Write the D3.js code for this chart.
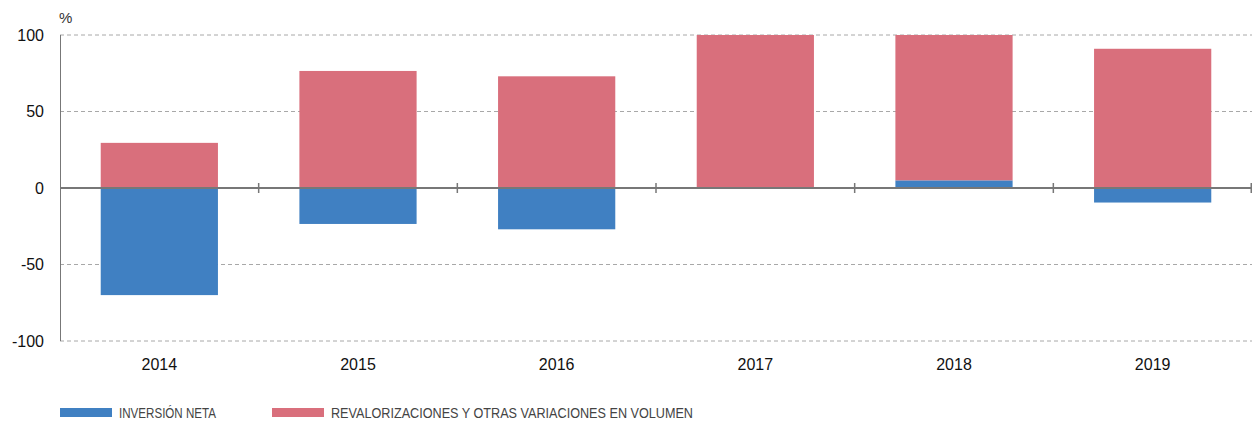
<!DOCTYPE html>
<html>
<head>
<meta charset="utf-8">
<script src="https://cdn.jsdelivr.net/npm/d3@7"></script>
<style>
  html, body { margin: 0; padding: 0; background: #fff; }
  svg { display: block; }
</style>
</head>
<body>
<svg id="chart" width="1252" height="424"></svg>
<script>
// Years on the horizontal axis
const years = ["2014", "2015", "2016", "2017", "2018", "2019"];
// Net investment (percentage points)
const inversionNeta = [-70, -23.5, -27, 0, 5, -9.5];
// Revaluations and other volume changes (percentage points)
const revalorizaciones = [29.5, 76.5, 73, 100, 95, 91];
// Vertical axis ticks
const yTicks = [-100, -50, 0, 50, 100];
const seriesNames = ["INVERSIÓN NETA", "REVALORIZACIONES Y OTRAS VARIACIONES EN VOLUMEN"];
const colors = ["#4080c2", "#d96f7c"];

const svg = d3.select("#chart");
const margin = { left: 60, right: 0, top: 35, bottom: 83 };
const W = 1252, H = 424;

const x = d3.scaleBand().domain(years)
  .range([margin.left, W - margin.right])
  .paddingInner(0.41).paddingOuter(0.205);
const y = d3.scaleLinear().domain([-100, 100]).range([H - margin.bottom, margin.top]);

// dashed gridlines
svg.append("g").selectAll("line")
  .data(yTicks.filter(d => d !== 0))
  .join("line")
  .attr("x1", margin.left).attr("x2", W)
  .attr("y1", d => y(d)).attr("y2", d => y(d))
  .attr("stroke", "#a8a8a8").attr("stroke-width", 1)
  .attr("stroke-dasharray", "4,3");

// stacked bars: positives stack upward from 0, negatives downward
const rows = years.map((yr, i) => ({ yr, vals: [inversionNeta[i], revalorizaciones[i]] }));
const rects = [];
rows.forEach(r => {
  let pos = 0, neg = 0;
  r.vals.forEach((v, k) => {
    if (v >= 0) { rects.push({ yr: r.yr, k, y0: pos, y1: pos + v }); pos += v; }
    else { rects.push({ yr: r.yr, k, y0: neg + v, y1: neg }); neg += v; }
  });
});
svg.append("g").selectAll("rect")
  .data(rects.filter(d => d.y1 - d.y0 > 0))
  .join("rect")
  .attr("x", d => x(d.yr))
  .attr("width", x.bandwidth())
  .attr("y", d => y(d.y1))
  .attr("height", d => y(d.y0) - y(d.y1))
  .attr("fill", d => colors[d.k]);

// left axis line
svg.append("line")
  .attr("x1", margin.left + 0.5).attr("x2", margin.left + 0.5)
  .attr("y1", y(100)).attr("y2", y(-100))
  .attr("stroke", "#777").attr("stroke-width", 1);

// y tick labels
svg.append("g").selectAll("text")
  .data(yTicks)
  .join("text")
  .attr("x", 44).attr("y", d => y(d))
  .attr("dy", "0.36em")
  .attr("text-anchor", "end")
  .attr("font-family", "Liberation Sans, Arial, sans-serif")
  .attr("font-size", 16)
  .attr("fill", "#111")
  .text(d => d);

svg.append("text")
  .attr("x", 59).attr("y", 23)
  .attr("font-family", "Liberation Sans, Arial, sans-serif")
  .attr("font-size", 15)
  .attr("fill", "#333")
  .text("%");

// zero line
svg.append("line")
  .attr("x1", margin.left).attr("x2", W)
  .attr("y1", y(0)).attr("y2", y(0))
  .attr("stroke", "#777").attr("stroke-width", 2);

// category separators on the zero line
const step = x.step();
const seps = years.slice(1).map(yr => x(yr) - x.paddingInner() * step / 2);
svg.append("g").selectAll("line")
  .data(seps.concat([W - 0.75]))
  .join("line")
  .attr("x1", d => d).attr("x2", d => d)
  .attr("y1", y(0) - 5).attr("y2", y(0) + 5)
  .attr("stroke", "#777").attr("stroke-width", 1.5);

// x labels
svg.append("g").selectAll("text")
  .data(years)
  .join("text")
  .attr("x", d => x(d) + x.bandwidth() / 2)
  .attr("y", y(-100) + 29)
  .attr("text-anchor", "middle")
  .attr("font-family", "Liberation Sans, Arial, sans-serif")
  .attr("font-size", 16)
  .attr("fill", "#111")
  .text(d => d);

// legend
const legendX = [60, 272];
const legendW = [97, 362];
const lg = svg.append("g").selectAll("g")
  .data(seriesNames)
  .join("g")
  .attr("transform", (d, i) => `translate(${legendX[i]},408)`);
lg.append("rect")
  .attr("width", 52).attr("height", 9)
  .attr("fill", (d, i) => colors[i]);
lg.append("text")
  .attr("x", 59).attr("y", 9.8)
  .attr("font-family", "Liberation Sans Narrow, Liberation Sans, Arial, sans-serif")
  .attr("font-size", 15.5)
  .attr("fill", "#444")
  .attr("textLength", (d, i) => legendW[i])
  .attr("lengthAdjust", "spacingAndGlyphs")
  .text(d => d);
</script>
</body>
</html>
